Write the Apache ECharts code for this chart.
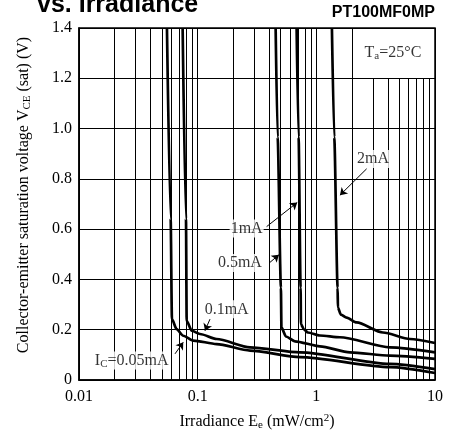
<!DOCTYPE html>
<html>
<head>
<meta charset="utf-8">
<script src="https://cdn.jsdelivr.net/npm/echarts@6/dist/echarts.min.js"></script>
<style>
  html, body { margin: 0; padding: 0; background: #fff; }
  #main { width: 449px; height: 436px; }
</style>
</head>
<body>
<div id="main"></div>
<script>
// curve data: [irradiance mW/cm2, Vce(sat) V]
var ic005 = [[0.0551,1.4],[0.0592,0.643],[0.0607,0.242],[0.0665,0.202],[0.0756,0.176],[0.0918,0.157],[0.1445,0.143],[0.276,0.117],[0.728,0.091],[4.17,0.051],[10,0.028]];
var ic01  = [[0.0747,1.4],[0.0797,0.643],[0.0808,0.235],[0.089,0.196],[0.1045,0.183],[0.1445,0.163],[0.276,0.130],[0.728,0.110],[4.17,0.064],[10,0.043]];
var ic05  = [[0.454,1.4],[0.472,0.966],[0.503,0.367],[0.508,0.209],[0.555,0.173],[0.660,0.154],[1.072,0.134],[1.92,0.110],[4.17,0.097],[10,0.084]];
var ic1   = [[0.682,1.4],[0.709,0.966],[0.737,0.367],[0.742,0.222],[0.786,0.201],[0.849,0.189],[1.072,0.177],[1.58,0.170],[4.17,0.130],[10,0.110]];
var ic2   = [[1.353,1.4],[1.416,0.966],[1.511,0.367],[1.52,0.288],[1.61,0.260],[1.80,0.248],[2.186,0.229],[3.64,0.189],[6.15,0.163],[10,0.147]];

var xMinor = [0.02,0.03,0.04,0.05,0.06,0.07,0.08,0.09,0.2,0.3,0.4,0.5,0.6,0.7,0.8,0.9,2,3,4,5,6,7,8,9];
var xLabels = {0.01:'0.01', 0.1:'0.1', 1:'1', 10:'10'};

// annotations (data coords)
var labelText = ['2mA', '1mA', '0.5mA', '0.1mA', '{n|I}{s|C}{n|=0.05mA}', '{n|T}{s|a}{n|=25°C}'];
var labelPos  = [[3.0,0.879],[0.2587,0.603],[0.227,0.465],[0.1755,0.281],[0.0278,0.078],[4.42,1.301]];
var arrowFrom = [[2.654,0.840],[0.381,0.610],[0.40,0.465],[0.127,0.242],[0.0644,0.104]];
var arrowTo   = [[1.581,0.735],[0.690,0.706],[0.484,0.498],[0.1152,0.196],[0.0756,0.150]];

var serif = '"Liberation Serif", "DejaVu Serif", serif';
var chart = echarts.init(document.getElementById('main'));

var gridLines = xMinor.map(function (v) {
  var top = (v > 2 && v < 10) ? 1.2 : 1.4;
  return [{coord: [v, 0]}, {coord: [v, top]}];
});
var arrows = arrowFrom.map(function (p, i) {
  return [{coord: p}, {coord: arrowTo[i]}];
});

function curve(d) {
  return {
    type: 'line', data: d, showSymbol: false, smooth: 0.25, smoothMonotone: 'x',
    lineStyle: {color: '#000', width: 2.7}, z: 5, silent: true
  };
}

var richText = {
  n: {fontFamily: serif, fontSize: 16, color: '#000', lineHeight: 18},
  s: {fontFamily: serif, fontSize: 11, color: '#000', lineHeight: 18, verticalAlign: 'bottom'}
};

chart.setOption({
  animation: false,
  grid: {left: 79, right: 14, top: 28, bottom: 53, show: true, borderColor: '#000', borderWidth: 1.5, backgroundColor: '#fff'},
  graphic: [
    {type: 'text', left: 37, top: -7, style: {text: 'vs. Irradiance', font: 'bold 25px "Liberation Sans", Arial, sans-serif', fill: '#000'}},
    {type: 'text', right: 14, top: 5, style: {text: 'PT100MF0MP', font: 'bold 16px "Liberation Sans", Arial, sans-serif', fill: '#000'}}
  ],
  xAxis: {
    type: 'log', logBase: 10, min: 0.01, max: 10,
    axisLine: {lineStyle: {color: '#000', width: 1.5}},
    axisTick: {show: false},
    splitLine: {show: true, lineStyle: {color: '#000', width: 1}},
    axisLabel: {color: '#000', fontFamily: serif, fontSize: 16, margin: 9,
      formatter: function (v) { return xLabels[v] || ''; }},
    name: '{n|Irradiance E}{s|e}{n| (mW/cm}{p|2}{n|)}',
    nameLocation: 'middle', nameGap: 33,
    nameTextStyle: {rich: {
      n: {fontFamily: serif, fontSize: 16, color: '#000', lineHeight: 18},
      s: {fontFamily: serif, fontSize: 11, color: '#000', lineHeight: 18, verticalAlign: 'bottom'},
      p: {fontFamily: serif, fontSize: 11, color: '#000', lineHeight: 18, verticalAlign: 'top'}
    }}
  },
  yAxis: {
    type: 'value', min: 0, max: 1.4, interval: 0.2,
    axisLine: {show: true, lineStyle: {color: '#000', width: 1.5}},
    axisTick: {show: false},
    splitLine: {show: true, lineStyle: {color: '#000', width: 1}},
    axisLabel: {color: '#000', fontFamily: serif, fontSize: 16, margin: 7,
      formatter: function (v) { return v === 0 ? '0' : v.toFixed(1); }},
    name: '{n|Collector-emitter saturation voltage V}{s|CE}{n| (sat) (V)}',
    nameLocation: 'middle', nameGap: 46,
    nameTextStyle: {padding: [0, 0, 0, 18], rich: richText}
  },
  series: [
    {
      type: 'line', data: [], silent: true, z: 1,
      markLine: {silent: true, symbol: 'none', label: {show: false}, animation: false,
        lineStyle: {color: '#000', width: 1, type: 'solid'}, data: gridLines}
    },
    curve(ic005), curve(ic01), curve(ic05), curve(ic1), curve(ic2),
    {
      type: 'line', data: [], silent: true, z: 6,
      markLine: {silent: true, symbol: ['none', 'arrow'], symbolSize: 7, label: {show: false}, animation: false,
        lineStyle: {color: '#000', width: 1, type: 'solid'}, data: arrows}
    },
    {
      type: 'scatter', symbolSize: 0, z: 7, silent: true,
      data: labelPos.map(function (p, i) { return {value: p, name: labelText[i]}; }),
      label: {show: true, position: 'inside', backgroundColor: '#fff', padding: [0, 1],
        formatter: function (p) { return p.name.indexOf('{') === 0 ? p.name : '{n|' + p.name + '}'; },
        rich: richText}
    }
  ]
});
</script>
</body>
</html>
